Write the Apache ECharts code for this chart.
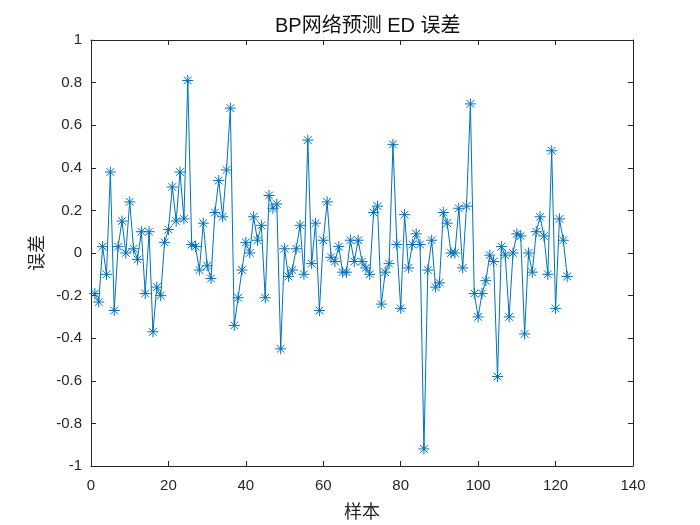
<!DOCTYPE html>
<html>
<head>
<meta charset="utf-8">
<script src="https://cdn.jsdelivr.net/npm/echarts@6/dist/echarts.min.js"></script>
<style>
    html, body { margin: 0; padding: 0; background: #fff; }
    #main { width: 700px; height: 525px; }
</style>
</head>
<body>
<div id="main"></div>
<script>
// 样本序号 1..123 对应的误差值
var errValues = [
    -0.19, -0.23, 0.03, -0.10, 0.38, -0.27, 0.03, 0.15, 0.00, 0.24,
    0.02, -0.03, 0.10, -0.19, 0.10, -0.37, -0.16, -0.20, 0.05, 0.11,
    0.31, 0.15, 0.38, 0.16, 0.81, 0.04, 0.03, -0.08, 0.14, -0.06,
    -0.12, 0.19, 0.34, 0.17, 0.39, 0.68, -0.34, -0.21, -0.08, 0.05,
    0.00, 0.17, 0.06, 0.13, -0.21, 0.27, 0.21, 0.23, -0.45, 0.02,
    -0.11, -0.08, 0.02, 0.13, -0.10, 0.53, -0.05, 0.14, -0.27, 0.06,
    0.24, -0.02, -0.04, 0.03, -0.09, -0.09, 0.06, -0.04, 0.06, -0.04,
    -0.07, -0.10, 0.19, 0.22, -0.24, -0.09, -0.05, 0.51, 0.04, -0.26,
    0.18, -0.07, 0.04, 0.09, 0.04, -0.92, -0.08, 0.06, -0.16, -0.14,
    0.19, 0.14, 0.00, 0.00, 0.21, -0.07, 0.22, 0.70, -0.19, -0.30,
    -0.19, -0.13, -0.01, -0.04, -0.58, 0.03, -0.01, -0.30, 0.00, 0.09,
    0.08, -0.38, 0.00, -0.09, 0.10, 0.17, 0.08, -0.10, 0.48, -0.26,
    0.16, 0.06, -0.11
];
var xTicks = [0, 20, 40, 60, 80, 100, 120, 140];
var yTicks = [-1, -0.8, -0.6, -0.4, -0.2, 0, 0.2, 0.4, 0.6, 0.8, 1];

var seriesData = [];
for (var i = 0; i < errValues.length; i++) {
    seriesData.push([i + 1, errValues[i]]);
}

var axisColor = '#262626';
var labelFont = 'Liberation Sans, Arial, sans-serif';
var cjkFont = 'Noto Sans CJK SC, sans-serif';

function boxAxis(base) {
    // 轴线 + 向内刻度，模拟 MATLAB 的 box on
    return Object.assign({
        axisLine: {show: true, onZero: false, lineStyle: {color: axisColor, width: 1}},
        axisTick: {show: true, inside: true, length: 5, lineStyle: {color: axisColor}},
        splitLine: {show: false}
    }, base);
}

var myChart = echarts.init(document.getElementById('main'));
var option = {
    backgroundColor: '#fff',
    animation: false,
    title: {
        // 标题居中于绘图区而非整个画布
        text: 'BP网络预测 ED 误差',
        left: 270,
        top: 11,
        textStyle: {
            fontFamily: labelFont + ', ' + cjkFont,
            fontSize: 20,
            fontWeight: 'normal',
            color: '#111'
        }
    },
    grid: {left: 91, top: 40, width: 542, height: 426, containLabel: false},
    xAxis: [
        boxAxis({
            type: 'value',
            min: xTicks[0],
            max: xTicks[xTicks.length - 1],
            interval: 20,
            name: '样本',
            nameLocation: 'middle',
            nameGap: 36,
            nameTextStyle: {fontFamily: cjkFont, fontSize: 18, color: axisColor},
            axisLabel: {fontFamily: labelFont, fontSize: 15, color: axisColor, margin: 12}
        }),
        boxAxis({
            type: 'value',
            position: 'top',
            min: xTicks[0],
            max: xTicks[xTicks.length - 1],
            interval: 20,
            axisLabel: {show: false}
        })
    ],
    yAxis: [
        boxAxis({
            type: 'value',
            min: yTicks[0],
            max: yTicks[yTicks.length - 1],
            interval: 0.2,
            name: '误差',
            nameLocation: 'middle',
            nameGap: 46,
            nameRotate: 90,
            nameTextStyle: {fontFamily: cjkFont, fontSize: 18, color: axisColor},
            axisLabel: {
                fontFamily: labelFont, fontSize: 15, color: axisColor, margin: 9,
                formatter: function(v) {
                    return String(Math.round(v * 10) / 10);
                }
            }
        }),
        boxAxis({
            type: 'value',
            position: 'right',
            min: yTicks[0],
            max: yTicks[yTicks.length - 1],
            interval: 0.2,
            axisLabel: {show: false}
        })
    ],
    series: [
        {
            type: 'line',
            data: seriesData,
            symbol: 'path://M0,-1L0,1M-1,0L1,0M-0.7,-0.7L0.7,0.7M-0.7,0.7L0.7,-0.7',
            symbolSize: 11,
            showAllSymbol: true,
            lineStyle: {color: '#0072BD', width: 1},
            itemStyle: {color: 'rgba(0,0,0,0)', borderColor: '#0072BD', borderWidth: 1}
        }
    ]
};
myChart.setOption(option);
</script>
</body>
</html>
